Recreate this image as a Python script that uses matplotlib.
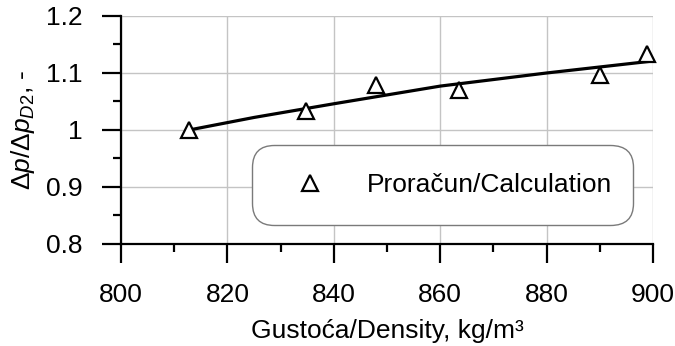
import matplotlib.pyplot as plt
from matplotlib.ticker import MultipleLocator

# Calculated points
density = [812.8, 834.7, 847.9, 863.5, 890.0, 898.8]
ratio = [1.000, 1.034, 1.079, 1.070, 1.097, 1.134]

# Fitted curve
fit_density = [812.8, 825, 840, 860, 880, 899]
fit_ratio = [1.000, 1.022, 1.046, 1.077, 1.100, 1.120]

plt.rcParams['font.family'] = ['Liberation Sans', 'DejaVu Sans']
plt.rcParams['mathtext.fontset'] = 'custom'
plt.rcParams['mathtext.rm'] = 'Liberation Sans'
plt.rcParams['mathtext.it'] = 'Liberation Sans:italic'

fig = plt.figure(figsize=(6.75, 3.46), dpi=100)
ax = fig.add_axes([0.1793, 0.2948, 0.7881, 0.6590])

ax.plot(fit_density, fit_ratio, color='black', lw=2.3, zorder=3)
ax.plot(density, ratio, ls='none', marker='^', ms=11.5, mfc='white',
        mec='black', mew=1.6, zorder=4, clip_on=False,
        label='Proračun/Calculation')

ax.set_xlim(800, 900)
ax.set_ylim(0.8, 1.2)
ax.xaxis.set_major_locator(MultipleLocator(20))
ax.xaxis.set_minor_locator(MultipleLocator(10))
ax.yaxis.set_major_locator(MultipleLocator(0.1))
ax.yaxis.set_minor_locator(MultipleLocator(0.05))
ax.set_yticks([0.8, 0.9, 1.0, 1.1, 1.2], ['0.8', '0.9', '1', '1.1', '1.2'])

ax.set_axisbelow(True)
ax.grid(True, which='major', color='#c4c4c4', lw=1.0)
for s in ['top', 'right']:
    ax.spines[s].set_visible(False)
for s in ['left', 'bottom']:
    ax.spines[s].set_linewidth(1.6)

ax.tick_params(which='major', direction='out', length=14, width=1.6,
               labelsize=19, pad=14)
ax.tick_params(which='minor', direction='out', length=6, width=1.6)

ax.set_xlabel('Gustoća/Density, kg/m³', fontsize=19, labelpad=9)
ax.set_ylabel(r'$\Delta p/\Delta p_{D2}$, -', fontsize=19)
ax.yaxis.set_label_coords(-0.158, 0.5)

leg = ax.legend(loc='lower left', bbox_to_anchor=(0.246, 0.083, 0.716, 0.35),
                mode='expand', fontsize=19, borderpad=1.07,
                handlelength=2.27, handletextpad=1.02, borderaxespad=0,
                framealpha=1, edgecolor='#7a7a7a', fancybox=True)
leg.get_frame().set_boxstyle('round', pad=0, rounding_size=0.85)
leg.get_frame().set_linewidth(1.0)

fig.savefig('out.png', dpi=100)
